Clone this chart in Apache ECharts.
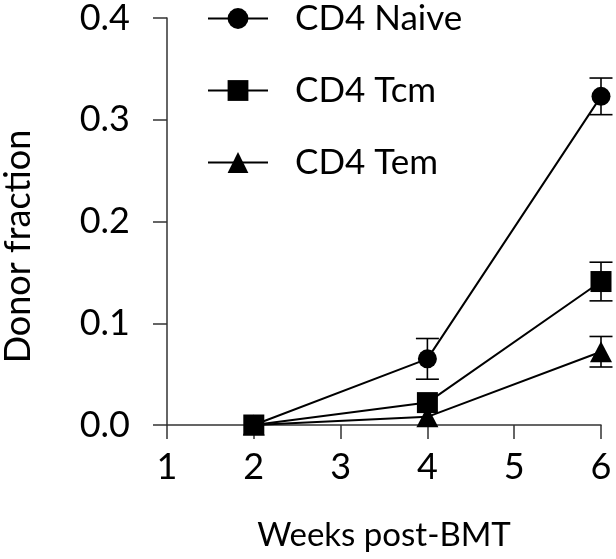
<!DOCTYPE html>
<html>
<head>
<meta charset="utf-8">
<script src="https://cdn.jsdelivr.net/npm/echarts@6/dist/echarts.min.js"></script>
<style>
html,body{margin:0;padding:0;background:#fff;}
#chart{width:616px;height:559px;}
</style>
</head>
<body>
<div id="chart"></div>
<script>
var weeks = [2, 4, 6];
var seriesNames = ['CD4 Naive', 'CD4 Tcm', 'CD4 Tem'];
var naive = [0, 0.065, 0.323];
var naiveErr = [0, 0.020, 0.018];
var tcm = [0, 0.022, 0.141];
var tcmErr = [0, 0, 0.019];
var tem = [0, 0.008, 0.072];
var temErr = [0, 0, 0.015];
var xTicks = [1, 2, 3, 4, 5, 6];
var yTicks = [0, 0.1, 0.2, 0.3, 0.4];

var FONT = 'Lato, "Open Sans", sans-serif';

function pts(vals) {
  return weeks.map(function (w, i) { return [w, vals[i]]; });
}
function errData(vals, errs) {
  var out = [];
  weeks.forEach(function (w, i) {
    if (errs[i] > 0) out.push([w, vals[i] - errs[i], vals[i] + errs[i]]);
  });
  return out;
}
function renderErr(params, api) {
  var x = api.value(0);
  var lo = api.coord([x, api.value(1)]);
  var hi = api.coord([x, api.value(2)]);
  var hw = 11.5;
  var st = { stroke: '#000', lineWidth: 1.6 };
  return {
    type: 'group',
    children: [
      { type: 'line', shape: { x1: lo[0], y1: lo[1], x2: hi[0], y2: hi[1] }, style: st },
      { type: 'line', shape: { x1: hi[0] - hw, y1: hi[1], x2: hi[0] + hw, y2: hi[1] }, style: st },
      { type: 'line', shape: { x1: lo[0] - hw, y1: lo[1], x2: lo[0] + hw, y2: lo[1] }, style: st }
    ]
  };
}

var chart = echarts.init(document.getElementById('chart'));
var lineStyle = { color: '#000', width: 2 };
var option = {
  animation: false,
  backgroundColor: '#fff',
  grid: { left: 167, right: 15, top: 18, bottom: 134, containLabel: false, outerBoundsMode: 'none' },
  legend: {
    data: seriesNames,
    orient: 'vertical',
    left: 202,
    top: -4,
    itemWidth: 60,
    itemHeight: 26,
    itemGap: 37,
    textStyle: { fontFamily: FONT, fontSize: 35, color: '#000', padding: [0, 0, 0, 22] }
  },
  xAxis: {
    type: 'value',
    min: 1, max: 6, interval: 1,
    name: 'Weeks post-BMT',
    nameLocation: 'middle',
    nameGap: 94,
    nameTextStyle: { fontFamily: FONT, fontSize: 33, color: '#000' },
    axisLine: { show: true, onZero: false, lineStyle: { color: '#333', width: 1.5 } },
    axisTick: { show: true, length: 14, lineStyle: { color: '#333', width: 1.5 } },
    axisLabel: {
      fontFamily: FONT, fontSize: 36, color: '#000', margin: 24,
      formatter: function (v) { return xTicks.indexOf(v) >= 0 ? String(v) : ''; }
    },
    splitLine: { show: false }
  },
  yAxis: {
    type: 'value',
    min: 0, max: 0.4, interval: 0.1,
    name: 'Donor fraction',
    nameLocation: 'middle',
    nameGap: 131,
    nameTextStyle: { fontFamily: FONT, fontSize: 36, color: '#000', padding: [0, 50, 0, 0] },
    axisLine: { show: true, lineStyle: { color: '#333', width: 1.5 } },
    axisTick: { show: true, length: 14, lineStyle: { color: '#333', width: 1.5 } },
    axisLabel: {
      fontFamily: FONT, fontSize: 36, color: '#000', margin: 37,
      formatter: function (v) { return v.toFixed(1); }
    },
    splitLine: { show: false }
  },
  series: [
    { type: 'custom', name: 'errTem', renderItem: renderErr, data: errData(tem, temErr), z: 1, silent: true },
    { type: 'custom', name: 'errNaive', renderItem: renderErr, data: errData(naive, naiveErr), z: 1, silent: true },
    { type: 'custom', name: 'errTcm', renderItem: renderErr, data: errData(tcm, tcmErr), z: 1, silent: true },
    { type: 'line', name: 'CD4 Tem', data: pts(tem), symbol: 'triangle', symbolSize: [22, 21],
      itemStyle: { color: '#000' }, lineStyle: lineStyle, z: 2 },
    { type: 'line', name: 'CD4 Naive', data: pts(naive), symbol: 'circle', symbolSize: 19,
      itemStyle: { color: '#000' }, lineStyle: lineStyle, z: 3 },
    { type: 'line', name: 'CD4 Tcm', data: pts(tcm), symbol: 'rect', symbolSize: 21,
      itemStyle: { color: '#000' }, lineStyle: lineStyle, z: 4 }
  ]
};
chart.setOption(option);
</script>
</body>
</html>
